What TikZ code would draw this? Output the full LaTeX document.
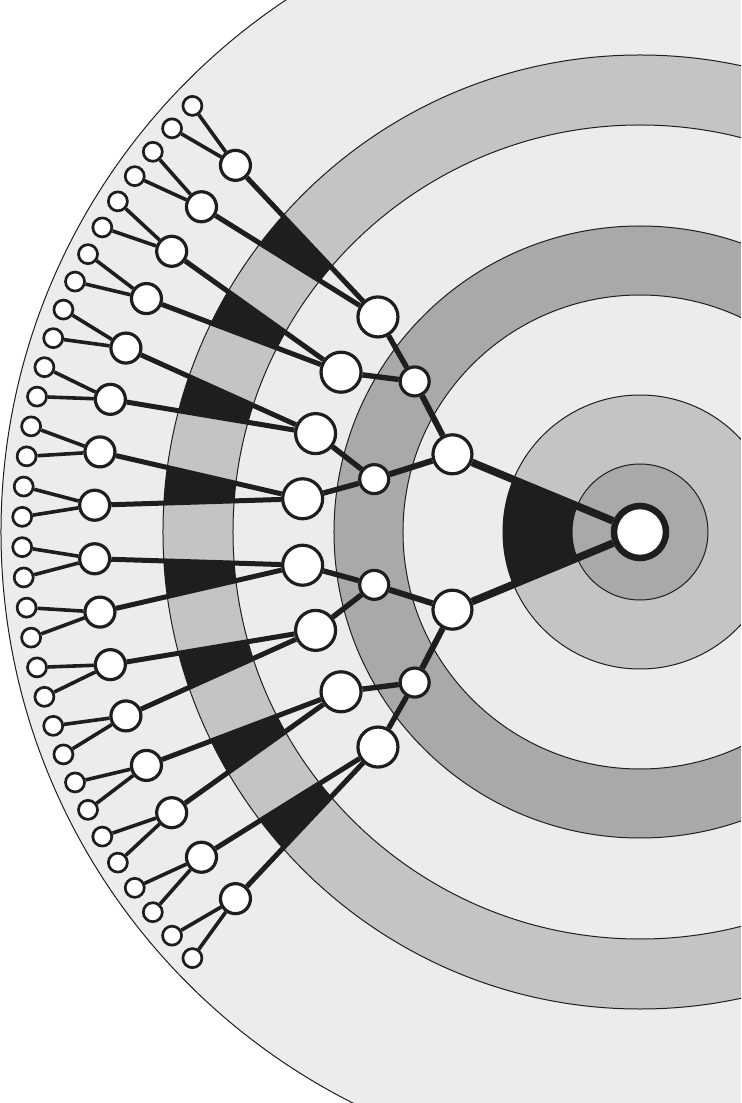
\documentclass[tikz,border=0pt]{standalone}
\usepackage{tikz}
\usetikzlibrary{positioning,calc}
\definecolor{ringlight}{HTML}{ECECEC}
\definecolor{ringmid}{HTML}{C4C4C4}
\definecolor{ringdark}{HTML}{A9A9A9}
\definecolor{inkblack}{HTML}{1E1E1E}
\pgfdeclarelayer{rings}
\pgfdeclarelayer{links}
\pgfsetlayers{rings,links,main}

\begin{document}
\begin{tikzpicture}[x=0.5pt, y=0.5pt]
	% Define styles
	\tikzstyle{vertex} = [draw=inkblack, fill=white, circle, inner sep=0pt, line width=1.6pt]
	\tikzstyle{lvl0} = [vertex, minimum size=26pt, line width=3.25pt]
	\tikzstyle{lvl1} = [vertex, minimum size=19.5pt]
	\tikzstyle{lvl2} = [vertex, minimum size=14.5pt]
	\tikzstyle{lvl3} = [vertex, minimum size=20pt]
	\tikzstyle{lvl4} = [vertex, minimum size=15pt]
	\tikzstyle{lvl5} = [vertex, minimum size=9.5pt, line width=1.35pt]
	\tikzstyle{ringline} = [draw=inkblack, line width=0.5pt]
	\tikzstyle{wedge} = [fill=inkblack]

	\useasboundingbox (-640,-571) rectangle (101,532);

	% Root
	\node [lvl0] (n0-0) at (0,0) {};

	% Tree levels, halving the angle at every step
	\foreach \k/\rad in {1/203, 2/271, 3/339, 4/546, 5/618} {
		\pgfmathtruncatemacro{\last}{2^\k-1}
		\foreach \i in {0,...,\last} {
			\pgfmathsetmacro{\ang}{135+(2*\i+1)*45/2^\k}
			\node [lvl\k] (n\k-\i) at (\ang:\rad) {};
		}
	}

	% Links
	\begin{pgfonlayer}{links}
		\foreach \k/\w in {1/3.8pt, 2/3pt, 3/2.7pt, 4/2.5pt, 5/1.8pt} {
			\pgfmathtruncatemacro{\last}{2^\k-1}
			\pgfmathtruncatemacro{\up}{\k-1}
			\foreach \i in {0,...,\last} {
				\pgfmathtruncatemacro{\pid}{floor(\i/2)}
				\draw [draw=inkblack, line width=\w] (n\up-\pid) -- (n\k-\i);
			}
		}
	\end{pgfonlayer}

	% Rings and black wedges
	\begin{pgfonlayer}{rings}
		\clip (-640,-571) rectangle (101,532);
		\fill [white] (-640,-571) rectangle (101,532);
		\fill [ringlight] (0,0) circle (639);
		\fill [ringmid] (0,0) circle (477);
		\begin{scope}
			\clip (0,0) circle (477);
			\foreach \i in {0,...,7} {
				\pgfmathtruncatemacro{\ca}{2*\i}
				\pgfmathtruncatemacro{\cb}{2*\i+1}
				\fill [wedge] (n3-\i.center) -- (n4-\ca.center) -- (n4-\cb.center) -- cycle;
			}
		\end{scope}
		\fill [ringlight] (0,0) circle (407);
		\fill [ringdark] (0,0) circle (306);
		\fill [ringlight] (0,0) circle (237);
		\fill [ringmid] (0,0) circle (137);
		\begin{scope}
			\clip (0,0) circle (137);
			\fill [wedge] (n0-0.center) -- (n1-0.center) -- (n1-1.center) -- cycle;
		\end{scope}
		\fill [ringdark] (0,0) circle (68);
		\foreach \rad in {68, 137, 237, 306, 407, 477, 639}
			\draw [ringline] (0,0) circle (\rad);
	\end{pgfonlayer}

\end{tikzpicture}
\end{document}
